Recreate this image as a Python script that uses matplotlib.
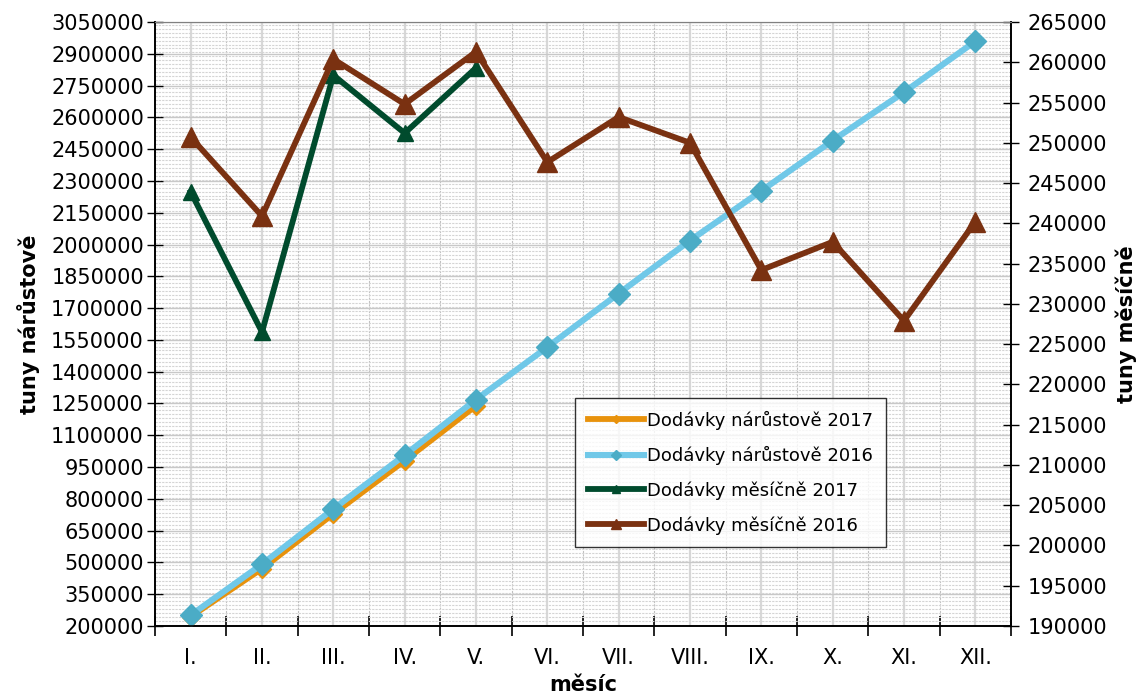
import matplotlib
matplotlib.use("Agg")
import matplotlib.pyplot as plt
from matplotlib.ticker import MultipleLocator, FixedLocator, NullFormatter, StrMethodFormatter

# ── data ─────────────────────────────────────────────────────────────────────
months = ["I.", "II.", "III.", "IV.", "V.", "VI.", "VII.", "VIII.", "IX.", "X.", "XI.", "XII."]

cum_2017 = [243900, 470400, 728800, 980000, 1239300]
cum_2016 = [250700, 491600, 752000, 1006800, 1268100, 1515700,
            1768900, 2018900, 2253100, 2490800, 2718700, 2958900]
mon_2017 = [243900, 226500, 258400, 251200, 259300]
mon_2016 = [250700, 240900, 260400, 254800, 261300, 247600,
            253200, 250000, 234200, 237700, 227900, 240200]

left_ticks = list(range(200000, 3050001, 150000))
right_ticks = list(range(190000, 265001, 5000))

C_ORANGE = "#E8920C"
C_BLUE = "#70C8E8"
C_BLUE_MK = "#4BACC6"
C_GREEN = "#004B2D"
C_BROWN = "#7A3111"

plt.rcParams["font.family"] = ["DejaVu Sans"]

fig = plt.figure(figsize=(11.41, 6.99), dpi=100)
ax = fig.add_axes([155 / 1141, 1 - 626 / 699, (1011 - 155) / 1141, (626 - 22) / 699])
ax2 = ax.twinx()

x = list(range(len(months)))

# ── grid ─────────────────────────────────────────────────────────────────────
ax.set_xlim(-0.5, len(months) - 0.5)
ax.set_ylim(200000, 3050000)
ax.yaxis.set_major_locator(FixedLocator(left_ticks))
ax.yaxis.set_major_formatter(StrMethodFormatter("{x:.0f}"))
ax.yaxis.set_minor_locator(MultipleLocator(18750))
ax.grid(axis="y", which="minor", color="#D4D4D4", lw=0.8, ls=(0, (2, 1)))
ax.grid(axis="y", which="major", color="#C8C8C8", lw=1.0)
for i in x:
    ax.axvline(i, color="#D8D8D8", lw=1.6, zorder=0.5)
    ax.axvline(i + 0.5, color="#C0C0C0", lw=0.8, ls=(0, (2, 1)), zorder=0.5)
ax.set_axisbelow(True)

# ── lines ────────────────────────────────────────────────────────────────────
ax.plot(x[:len(cum_2017)], cum_2017, color=C_ORANGE, lw=4.2, marker="D", ms=9,
        mfc=C_ORANGE, mec=C_ORANGE, label="Dodávky nárůstově 2017", zorder=3)
ax.plot(x, cum_2016, color=C_BLUE, lw=4.4, marker="D", ms=11,
        mfc=C_BLUE_MK, mec=C_BLUE_MK, label="Dodávky nárůstově 2016", zorder=4)

ax2.plot(x[:len(mon_2017)], mon_2017, color=C_GREEN, lw=4.2, marker="^", ms=12,
         mfc=C_GREEN, mec=C_GREEN, label="Dodávky měsíčně 2017", zorder=3)
ax2.plot(x, mon_2016, color=C_BROWN, lw=4.2, marker="^", ms=15,
         mfc=C_BROWN, mec=C_BROWN, label="Dodávky měsíčně 2016", zorder=4)
ax2.set_ylim(190000, 265000)
ax2.yaxis.set_major_locator(FixedLocator(right_ticks))

# ── axes styling ─────────────────────────────────────────────────────────────
ax.xaxis.set_major_locator(FixedLocator([i - 0.5 for i in range(len(months) + 1)]))
ax.xaxis.set_major_formatter(NullFormatter())
ax.xaxis.set_minor_locator(FixedLocator(x))
ax.set_xticklabels(months, minor=True)
ax.tick_params(axis="x", which="major", direction="inout", length=14, width=1.2)
ax.tick_params(axis="x", which="minor", length=0, pad=16, labelsize=15)
ax.tick_params(axis="y", which="major", direction="inout", length=12, width=1.0,
               labelsize=15, pad=2)
ax.tick_params(axis="y", which="minor", length=0)
ax2.tick_params(axis="y", direction="inout", length=12, width=1.0, labelsize=15, pad=6)

for a in (ax, ax2):
    for s in ("left", "right", "bottom"):
        a.spines[s].set_color("black")
        a.spines[s].set_linewidth(1.2)
    a.spines["top"].set_color("#808080")
    a.spines["top"].set_linestyle((0, (1, 1)))

ax.set_ylabel("tuny nárůstově", fontsize=15, fontweight="bold", labelpad=8)
ax2.set_ylabel("tuny měsíčně", fontsize=15, fontweight="bold", labelpad=6)
ax.set_xlabel("měsíc", fontsize=15, fontweight="bold", labelpad=5)

h1, l1 = ax.get_legend_handles_labels()
h2, l2 = ax2.get_legend_handles_labels()
leg = ax2.legend(h1 + h2, l1 + l2, loc="upper left",
                 bbox_to_anchor=((575 - 155) / 856, (626 - 398) / 604),
                 fontsize=13, frameon=True, fancybox=False, edgecolor="black",
                 handlelength=3.1, handletextpad=0.2, labelspacing=0.9,
                 borderpad=0.7, borderaxespad=0, markerscale=0.5)
leg.get_frame().set_linewidth(1.0)

fig.savefig("out.png", dpi=100)
